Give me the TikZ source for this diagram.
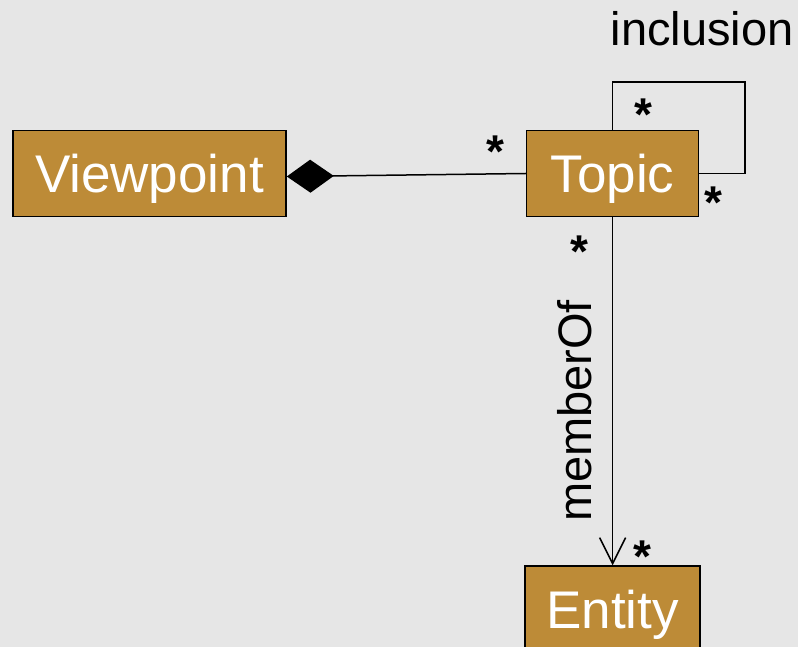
\documentclass[tikz,border=0pt]{standalone}
\usepackage{fontspec}
\setmainfont{Liberation Sans}
\usetikzlibrary{positioning,arrows.meta}
\definecolor{canvas}{HTML}{E6E6E6}
\definecolor{gold}{HTML}{BD8B37}
\definecolor{ink}{HTML}{000000}
\tikzset{
  cls/.style={draw=ink, fill=gold, line width=1.6pt, text=white, inner sep=0pt,
              minimum height=86pt, text height=39pt, text depth=0pt,
              font=\fontsize{53}{60}\selectfont},
  mult/.style={font=\fontsize{46}{50}\selectfont\bfseries, inner sep=0pt},
  lbl/.style={font=\fontsize{47}{50}\selectfont, inner sep=0pt},
  assoc/.style={line width=1.5pt, draw=ink},
  comp/.style={assoc, -{Diamond[length=47pt, width=33pt]}},
  nav/.style={assoc, -{Straight Barb[length=26pt, width=26pt]}},
}

\begin{document}
\begin{tikzpicture}[x=1pt, y=-1pt]
\useasboundingbox (0,0) rectangle (798,647);
\fill[canvas] (0,0) rectangle (798,647);
\clip (0,0) rectangle (798,647);

% classes
\node[cls, minimum width=273pt] (vp) at (149.5,173.5) {Viewpoint};
\node[cls, minimum width=172pt] (tp) [right=239pt of vp] {Topic};
\node[cls, minimum width=175pt] (en) [below=348pt of tp] {Entity};

% composition
\draw[comp] (tp.west) -- ([yshift=-3pt]vp.east);
\node[mult] (m1) at (495,152) {*};

% self association
\coordinate (bend) at (745,82);
\draw[assoc] (tp.north) |- (bend) |- (tp.east);
\node[lbl] (incl) at (702,29) {inclusion};
\node[mult] (m2) at (643,115) {*};
\node[mult] (m3) at (713,203) {*};

% membership
\draw[nav] (tp.south) -- (en.north);
\node[lbl, rotate=90] (mem) at (575,411) {memberOf};
\node[mult] (m4) at (579,252) {*};
\node[mult] (m5) at (642,557) {*};
\end{tikzpicture}
\end{document}
